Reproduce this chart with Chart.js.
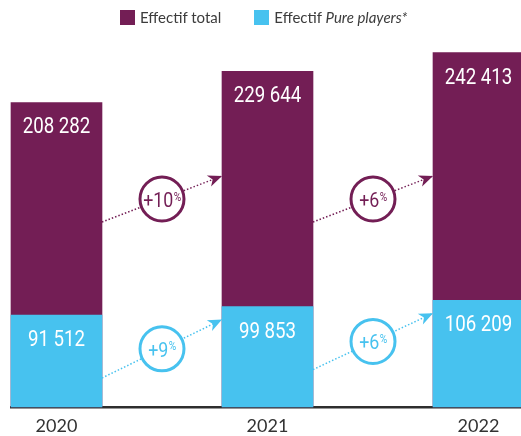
<!DOCTYPE html>
<html>
<head>
<meta charset="utf-8">
<script src="https://cdn.jsdelivr.net/npm/chart.js@4/dist/chart.umd.min.js"></script>
<style>
  html, body { margin: 0; padding: 0; background: #fff; }
  #wrap { position: relative; width: 521px; height: 436px; }
  #legend { position: absolute; left: 120px; top: 10px; display: flex; align-items: center; font: 15px Lato, sans-serif; color: #3c3c3c; }
  .item { display: flex; align-items: center; margin-right: 33px; line-height: 15px; }
  .box { display: inline-block; width: 15px; height: 15px; margin-right: 5px; }
</style>
</head>
<body>
<div id="wrap">
  <div id="legend">
    <span class="item"><span class="box" style="background:#731e55"></span>Effectif total</span>
    <span class="item"><span class="box" style="background:#47c2ef"></span>Effectif&nbsp;<i>Pure players*</i></span>
  </div>
  <canvas id="chart" width="521" height="436"></canvas>
</div>
<script>
// data
const years = [2020, 2021, 2022];
const totalStaff = [208282, 229644, 242413];
const pureStaff = [91512, 99853, 106209];
const totalGrowth = ['+10', '+6'];
const pureGrowth = ['+9', '+6'];

const PURPLE = '#731e55';
const CYAN = '#47c2ef';

// "208 282" style
function fmt(n) {
  return n.toString().replace(/\B(?=(\d{3})+(?!\d))/g, ' ');
}

// the original uses a condensed face, squeeze Roboto a bit
function condensed(ctx, text, x, y, size, color, align) {
  ctx.save();
  ctx.translate(x, y);
  ctx.scale(0.85, 1);
  ctx.font = size + 'px Roboto';
  ctx.fillStyle = color;
  ctx.textAlign = align || 'center';
  ctx.textBaseline = 'alphabetic';
  ctx.fillText(text, 0, 0);
  ctx.restore();
}

function condensedWidth(ctx, text, size) {
  ctx.save();
  ctx.font = size + 'px Roboto';
  const w = ctx.measureText(text).width * 0.85;
  ctx.restore();
  return w;
}

// dotted arrow with the growth bubble in the middle
function growthArrow(ctx, x1, y1, x2, y2, color, label) {
  ctx.save();
  ctx.strokeStyle = color;
  ctx.fillStyle = color;
  ctx.lineWidth = 1.5;
  ctx.setLineDash([1.5, 2]);
  ctx.beginPath();
  ctx.moveTo(x1, y1);
  ctx.lineTo(x2, y2);
  ctx.stroke();
  ctx.setLineDash([]);

  const a = Math.atan2(y2 - y1, x2 - x1);
  ctx.save();
  ctx.translate(x2, y2);
  ctx.rotate(a);
  ctx.beginPath();
  ctx.moveTo(0, 0);
  ctx.lineTo(-14, -6);
  ctx.lineTo(-10, 0);
  ctx.lineTo(-14, 6);
  ctx.closePath();
  ctx.fill();
  ctx.restore();

  const cx = (x1 + x2) / 2;
  const cy = (y1 + y2) / 2;
  ctx.beginPath();
  ctx.arc(cx, cy, 22, 0, Math.PI * 2);
  ctx.fillStyle = '#fff';
  ctx.fill();
  ctx.lineWidth = 3;
  ctx.stroke();

  const w1 = condensedWidth(ctx, label, 21);
  const w2 = condensedWidth(ctx, '%', 12);
  const sx = cx - (w1 + w2) / 2;
  condensed(ctx, label, sx, cy + 8, 21, color, 'left');
  condensed(ctx, '%', sx + w1 + 0.5, cy + 1.5, 12, color, 'left');
  ctx.restore();
}

const valueLabels = {
  id: 'valueLabels',
  afterDatasetsDraw(chart) {
    const ctx = chart.ctx;
    chart.data.datasets.forEach((ds, di) => {
      chart.getDatasetMeta(di).data.forEach((bar, i) => {
        condensed(ctx, fmt(ds.data[i]), bar.x, bar.y + 31, 22, '#fff');
      });
    });
  }
};

const growthArrows = {
  id: 'growthArrows',
  afterDatasetsDraw(chart) {
    const ctx = chart.ctx;
    const base = chart.chartArea.bottom;
    const totalBars = chart.getDatasetMeta(1).data;
    const pureBars = chart.getDatasetMeta(0).data;
    for (let i = 0; i < years.length - 1; i++) {
      const a = totalBars[i], b = totalBars[i + 1];
      const x1 = a.x + a.width / 2, x2 = b.x - b.width / 2;
      growthArrow(ctx, x1, base - 185, x2, base - 231, PURPLE, totalGrowth[i]);
      const p = pureBars[i], q = pureBars[i + 1];
      growthArrow(ctx, x1, p.y + 63, x2, q.y + 13, CYAN, pureGrowth[i]);
    }
  }
};

const ctx = document.getElementById('chart').getContext('2d');
new Chart(ctx, {
  type: 'bar',
  data: {
    labels: years,
    datasets: [
      {
        label: 'Effectif Pure players*',
        data: pureStaff,
        backgroundColor: CYAN,
        yAxisID: 'y2',
        order: 0
      },
      {
        label: 'Effectif total',
        data: totalStaff,
        backgroundColor: PURPLE,
        yAxisID: 'y',
        order: 1
      }
    ]
  },
  options: {
    responsive: false,
    animation: false,
    layout: { padding: { top: 40, left: 11, right: 0, bottom: 0 } },
    datasets: {
      bar: { grouped: false, barThickness: 91, borderWidth: 0, clip: false }
    },
    plugins: {
      legend: { display: false },
      tooltip: { enabled: false }
    },
    scales: {
      x: {
        type: 'linear',
        offset: false,
        min: 2019.7844,
        max: 2022.2014,
        grid: { display: false, drawTicks: false, offset: false },
        border: { display: true, color: '#2e2e2e', width: 2.5 },
        afterBuildTicks: scale => { scale.ticks = years.map(v => ({ value: v })); },
        afterFit: scale => { scale.height = 29; },
        ticks: {
          padding: 8,
          color: '#333',
          font: { family: 'Lato', size: 18 },
          callback: v => String(v)
        }
      },
      y: { display: false, min: 0, max: 251000 },
      y2: { display: false, min: 0, max: 365000 }
    }
  },
  plugins: [valueLabels, growthArrows]
});
</script>
</body>
</html>
